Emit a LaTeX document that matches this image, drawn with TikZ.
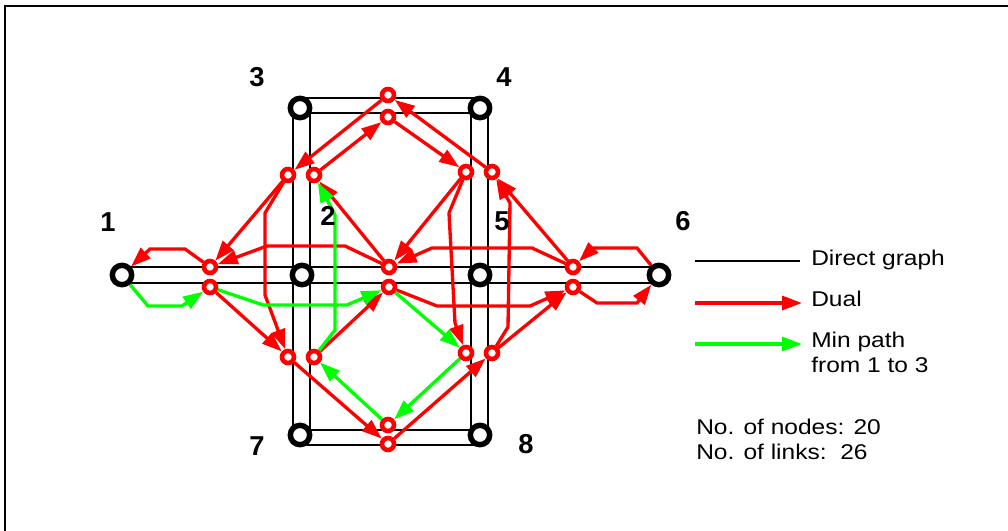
\documentclass[tikz,border=0pt]{standalone}
\usepackage{fontspec}
\setmainfont{Liberation Sans}
\newfontfamily\legfont[FakeStretch=1.15]{Liberation Sans}
\usetikzlibrary{arrows.meta,calc}
\pgfdeclarelayer{back}
\pgfdeclarelayer{mid}
\pgfsetlayers{back,mid,main}
\definecolor{dred}{RGB}{255,0,0}
\definecolor{dgreen}{RGB}{0,255,0}
\tikzset{
 bignode/.style={circle,draw=black,line width=4.1pt,fill=white,minimum size=14.5pt,inner sep=0pt},
 dualnode/.style={circle,draw=dred,line width=3.4pt,fill=white,minimum size=9pt,inner sep=0pt},
 numlabel/.style={font=\fontsize{20.5}{22}\selectfont\bfseries,inner sep=0pt},
 legtext/.style={font=\legfont\fontsize{16}{19}\selectfont,inner sep=0pt,anchor=base west},
 direct/.style={draw=black,line width=1.5pt},
 dualarrow/.style={draw=dred,line width=2.5pt,-{Triangle[length=15pt,width=10.5pt]}},
 minarrow/.style={draw=dgreen,line width=2.5pt,-{Triangle[length=15pt,width=10.5pt]}},
}
\begin{document}
\begin{tikzpicture}[x=0.75pt,y=-0.75pt]
\useasboundingbox (0,0) rectangle (1008,531);
\draw[line width=1.5pt] (5,531) -- (5,6) -- (1008,6);

% direct graph nodes
\node[bignode] (n1) at (122,275) {};
\node[bignode] (n2) at (302,275) {};
\node[bignode] (n3) at (300,108) {};
\node[bignode] (n4) at (480,108) {};
\node[bignode] (n5) at (480,275) {};
\node[bignode] (n6) at (659,275) {};
\node[bignode] (n7) at (300,435) {};
\node[bignode] (n8) at (480,435) {};

% labels
\node[numlabel] (l1) at (108,222) {1};
\node[numlabel] (l2) at (328,216) {2};
\node[numlabel] (l3) at (257,77) {3};
\node[numlabel] (l4) at (504,77) {4};
\node[numlabel] (l5) at (502,221) {5};
\node[numlabel] (l6) at (683,221) {6};
\node[numlabel] (l7) at (257,446) {7};
\node[numlabel] (l8) at (526,444) {8};

% dual nodes
\node[dualnode] (T1) at (388,95) {};
\node[dualnode] (T2) at (388,117) {};
\node[dualnode] (ULa) at (288,175) {};
\node[dualnode] (ULb) at (314,175) {};
\node[dualnode] (URa) at (466,172) {};
\node[dualnode] (URb) at (492,172) {};
\node[dualnode] (La) at (210,267) {};
\node[dualnode] (Lb) at (210,287) {};
\node[dualnode] (Ma) at (389,267) {};
\node[dualnode] (Mb) at (389,287) {};
\node[dualnode] (Ra) at (573,267) {};
\node[dualnode] (Rb) at (573,287) {};
\node[dualnode] (LLa) at (288,357) {};
\node[dualnode] (LLb) at (314,357) {};
\node[dualnode] (LRa) at (466,353) {};
\node[dualnode] (LRb) at (492,353) {};
\node[dualnode] (Ba) at (388,425) {};
\node[dualnode] (Bb) at (388,444) {};

\begin{pgfonlayer}{back}
\draw[direct] ($(n3.center)+(0,-10)$) -- ($(n4.center)+(0,-10)$);
\draw[direct] ($(n7.center)+(0,10)$) -- ($(n8.center)+(0,10)$);
\draw[direct] ($(n3.center)+(-7,0)$) -- ($(n7.center)+(-7,0)$);
\draw[direct] ($(n4.center)+(8,0)$) -- ($(n8.center)+(8,0)$);
\draw[direct] ($(n7.center)+(10,-5)$) -- ($(n3.center)+(10,5)$) -- ($(n4.center)+(-9,5)$) -- ($(n8.center)+(-9,-5)$) -- cycle;
\draw[direct] ($(n1.center)+(0,-8)$) -- ($(n6.center)+(0,-8)$);
\draw[direct] ($(n1.center)+(0,8)$) -- ($(n6.center)+(0,8)$);
\end{pgfonlayer}

\begin{pgfonlayer}{mid}
\draw[dualarrow] (T1) -- (ULa);
\draw[dualarrow] (ULb) -- (T2);
\draw[dualarrow] (T2) -- (URa);
\draw[dualarrow] (URb) -- (T1);
\draw[dualarrow] (ULa) -- (La);
\draw[dualarrow] (ULa) -- (265,213) -- (265,295) -- (LLa);
\draw[dualarrow] (Lb) -- (LLa);
\draw[dualarrow] (LLa) -- (Bb);
\draw[dualarrow] (Bb) -- (LRb);
\draw[dualarrow] (LLb) -- (Mb);
\draw[dualarrow] (URa) -- (Ma);
\draw[dualarrow] (Ma) -- (ULb);
\draw[dualarrow] (Ra) -- (532,248) -- (432,248) -- (Ma);
\draw[dualarrow] (Ma) -- (345,246) -- (267,246) -- (La);
\draw[dualarrow] (La) -- (185,249) -- (150,249) -- (n1);
\draw[dualarrow] (URa) -- (449,213) -- (455,323) -- (LRa);
\draw[dualarrow] (LRb) -- (508,327) -- (510,203) -- (URb);
\draw[dualarrow] (Ra) -- (URb);
\draw[dualarrow] (Mb) -- (437,306) -- (530,306) -- (Rb);
\draw[dualarrow] (LRb) -- (Rb);
\draw[dualarrow] (Rb) -- (597,303) -- (637,303) -- (n6);
\draw[dualarrow] (n6) -- (637,248) -- (593,248) -- (Ra);
% minimum path
\draw[minarrow] (n1) -- (148,306) -- (182,306) -- (Lb);
\draw[minarrow] (Lb) -- (263,305) -- (347,305) -- (Mb);
\draw[minarrow] (Mb) -- (LRa);
\draw[minarrow] (LRa) -- (Ba);
\draw[minarrow] (Ba) -- (LLb);
\draw[minarrow] (LLb) -- (335,330) -- (335,215) -- (ULb);
\end{pgfonlayer}

% legend
\coordinate (k1a) at (695,261); \coordinate (k1b) at (800,261);
\coordinate (k2a) at (695,303); \coordinate (k2b) at (802,303);
\coordinate (k3a) at (695,344); \coordinate (k3b) at (802,344);
\draw[direct] (k1a) -- (k1b);
\draw[dualarrow] (k2a) -- (k2b);
\draw[minarrow] (k3a) -- (k3b);
\node[legtext] (t1) at (811,266) {Direct graph};
\node[legtext] (t2) at (811,307) {Dual};
\node[legtext] (t3) at (811,348) {Min path};
\node[legtext] (t4) at (811,373) {from 1 to 3};
\node[legtext] (t5) at (696,434) {No. of nodes: 20};
\node[legtext] (t6) at (696,459) {No. of links:\ \ 26};
\end{tikzpicture}
\end{document}
